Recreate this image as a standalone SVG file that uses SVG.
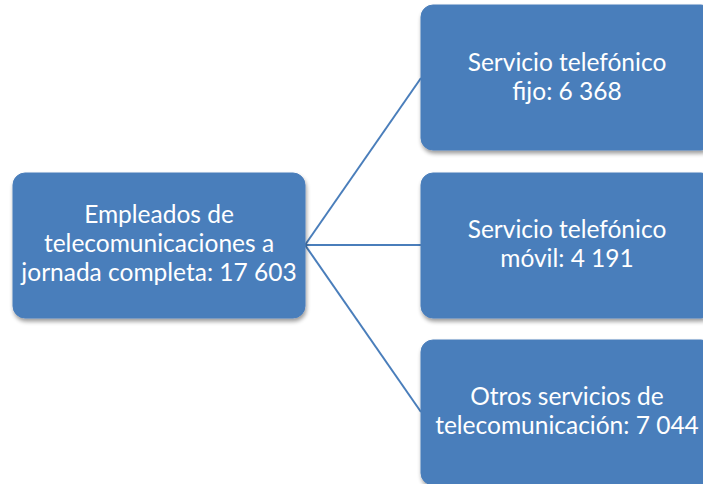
<svg xmlns="http://www.w3.org/2000/svg" width="703" height="484" viewBox="0 0 703 484">
<style>
.box{fill:#4a7ebb;stroke:#4a7ebb;stroke-width:1;filter:url(#sh)}
.t{font-family:Lato,"Open Sans",sans-serif;font-size:24.5px;fill:#ffffff;text-anchor:middle}
.c{stroke:#4a7ebb;stroke-width:2;fill:none}
</style>
<defs>
<filter id="sh" x="-10%" y="-10%" width="120%" height="130%">
<feGaussianBlur in="SourceAlpha" stdDeviation="2"/>
<feOffset dx="1" dy="3" result="b"/>
<feComponentTransfer><feFuncA type="linear" slope="0.4"/></feComponentTransfer>
<feMerge><feMergeNode/><feMergeNode in="SourceGraphic"/></feMerge>
</filter>
</defs>
<rect width="703" height="484" fill="#ffffff"/>
<g id="connectors">
<line class="c" x1="305" y1="245" x2="421" y2="78"/>
<line class="c" x1="305" y1="245" x2="421" y2="245"/>
<line class="c" x1="305" y1="245" x2="421" y2="412"/>
</g>
<g id="root">
<rect class="box" x="13" y="173" width="292" height="145" rx="12"/>
<text class="t" x="159" y="223">Empleados de</text>
<text class="t" x="159" y="252">telecomunicaciones a</text>
<text class="t" x="159" y="281">jornada completa: 17 603</text>
</g>
<g id="fijo">
<rect class="box" x="421" y="5" width="292" height="145" rx="12"/>
<text class="t" x="567" y="71">Servicio telefónico</text>
<text class="t" x="567" y="100">fijo: 6 368</text>
</g>
<g id="movil">
<rect class="box" x="421" y="173" width="292" height="145" rx="12"/>
<text class="t" x="567" y="238">Servicio telefónico</text>
<text class="t" x="567" y="267">móvil: 4 191</text>
</g>
<g id="otros">
<rect class="box" x="421" y="340" width="292" height="145" rx="12"/>
<text class="t" x="567" y="405">Otros servicios de</text>
<text class="t" x="567" y="434">telecomunicación: 7 044</text>
</g>
</svg>
